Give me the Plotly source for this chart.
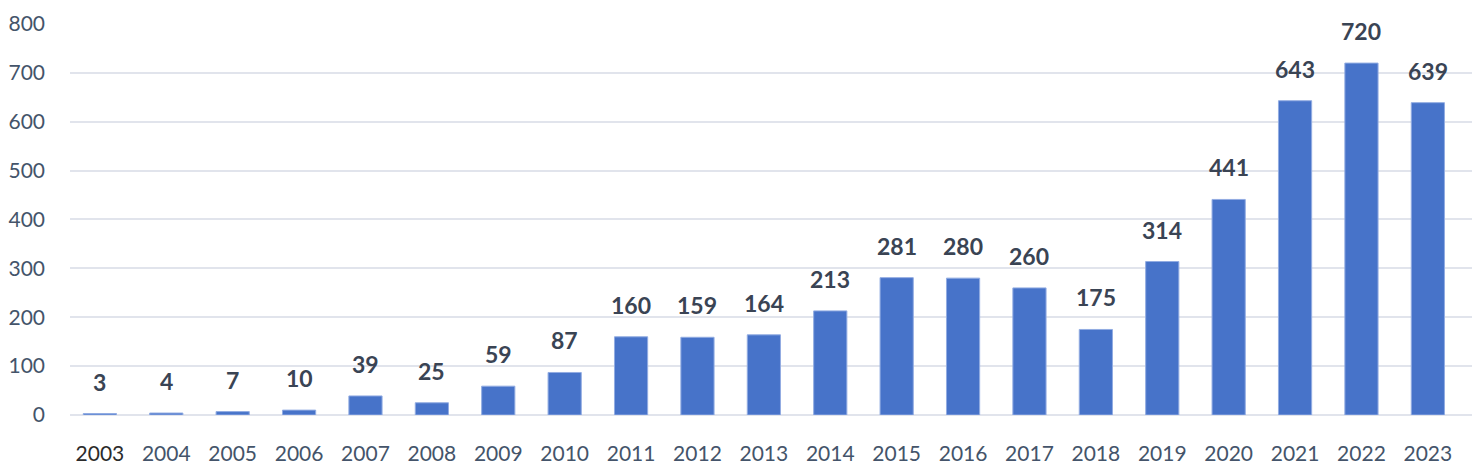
import plotly.graph_objects as go

years = [str(y) for y in range(2003, 2024)]
counts = [3, 4, 7, 10, 39, 25, 59, 87, 160, 159, 164, 213, 281, 280, 260, 175, 314, 441, 643, 720, 639]
y_ticks = [0, 100, 200, 300, 400, 500, 600, 700, 800]

# first year label is a bit darker in the original
tick_text = ['<span style="color:#2b2b2b">%s</span>' % years[0]] + years[1:]

fig = go.Figure(go.Bar(
    x=years, y=counts,
    marker=dict(color="#4773c9", line=dict(color="#92ace2", width=1)),
    width=0.5,
))

# value labels, lifted above each bar (x as category index)
for i, v in enumerate(counts):
    fig.add_annotation(x=i, y=v, text="<b>%d</b>" % v, showarrow=False,
                       yanchor="bottom", yshift=16,
                       font=dict(family="Lato", size=23, color="#3a4454"))

# page has an 8px body margin, so margins are trimmed to match
fig.update_layout(
    width=1480, height=470,
    margin=dict(l=62, r=13, t=15, b=63),
    plot_bgcolor="white", paper_bgcolor="white",
    showlegend=False,
    font=dict(family="Lato", size=21, color="#44546a"),
)
fig.update_xaxes(type="category", categoryorder="array", categoryarray=years,
                 range=[-0.45, 20.71],
                 tickmode="array", tickvals=years, ticktext=tick_text,
                 tickangle=0, showgrid=False, showline=False, ticks="",
                 ticklabelstandoff=24, automargin=False)
# range a touch past 800 so the top gridline is kept
fig.update_yaxes(range=[0, 802], tickvals=y_ticks, showgrid=True,
                 gridcolor="#e1e4ec", gridwidth=1.5, zeroline=True,
                 zerolinecolor="#e1e4ec", zerolinewidth=1.5, ticks="",
                 ticklabelstandoff=24, ticklabeloverflow="allow", automargin=False)

fig.write_html("out.html")
